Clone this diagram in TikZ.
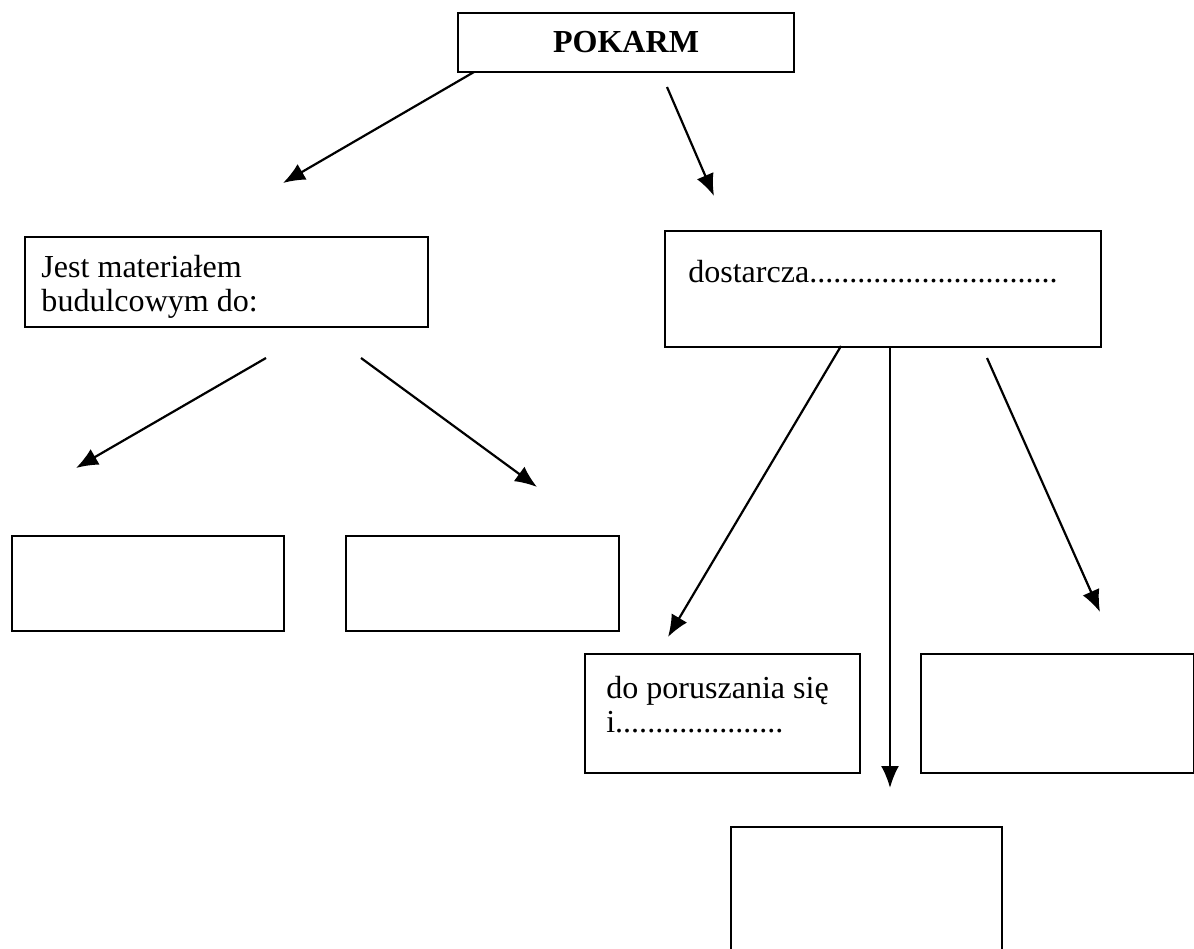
\documentclass[tikz,border=0pt]{standalone}
\usepackage{fontspec}
\setmainfont{Liberation Serif}
\usetikzlibrary{arrows.meta}

\begin{document}
\begin{tikzpicture}[
    box/.style={draw, line width=0.05cm, inner sep=0pt, anchor=north west},
    txt/.style={inner sep=0pt, anchor=north west, align=left, font=\fontsize{22.8}{24.2}\selectfont},
    arr/.style={line width=0.055cm, -{Latex[length=0.55cm,width=0.45cm]}}
  ]
        \useasboundingbox (0,0) rectangle (29.85,-23.7);

        % Draw boxes
        \node[box, minimum width=8.4cm, minimum height=1.475cm,
              font=\fontsize{22.8}{24.2}\selectfont\bfseries] (pokarm) at (11.425,-0.3) {POKARM};
        \node[box, minimum width=10.075cm, minimum height=2.25cm] (budulec) at (0.6,-5.9) {};
        \node[box, minimum width=10.9cm, minimum height=2.9cm] (energia) at (16.6,-5.75) {};
        \node[box, minimum width=6.8cm, minimum height=2.375cm] (bud1) at (0.275,-13.375) {};
        \node[box, minimum width=6.825cm, minimum height=2.375cm] (bud2) at (8.625,-13.375) {};
        \node[box, minimum width=6.875cm, minimum height=2.975cm] (ruch) at (14.6,-16.325) {};
        \node[box, minimum width=6.825cm, minimum height=2.975cm] (en2) at (23,-16.325) {};
        \node[box, minimum width=6.775cm, minimum height=3.6cm] (en3) at (18.25,-20.65) {};

        % Texts in boxes
        \node[txt] (budulectxt) at ([shift={(0.43,-0.48)}]budulec.north west)
              {Jest materiałem\\budulcowym do:};
        \node[txt] (energiatxt) at ([shift={(0.6,-0.76)}]energia.north west)
              {dostarcza...............................};
        \node[txt] (ruchtxt) at ([shift={(0.55,-0.57)}]ruch.north west)
              {do poruszania się\\i.....................};

        % Arrow ends
        \coordinate (a1s) at (11.85,-1.8);   \coordinate (a1e) at (7.075,-4.575);
        \coordinate (a2s) at (16.675,-2.175); \coordinate (a2e) at (17.85,-4.9);
        \coordinate (a3s) at (6.65,-8.95);   \coordinate (a3e) at (1.9,-11.7);
        \coordinate (a4s) at (9.025,-8.95);  \coordinate (a4e) at (13.425,-12.175);
        \coordinate (a5s) at (21.025,-8.65); \coordinate (a5e) at (16.7,-15.925);
        \coordinate (a6s) at (22.25,-8.65);  \coordinate (a6e) at (22.25,-19.7);
        \coordinate (a7s) at (24.675,-8.95); \coordinate (a7e) at (27.5,-15.3);

        % Draw arrows
        \draw[arr] (a1s) -- (a1e);
        \draw[arr] (a2s) -- (a2e);
        \draw[arr] (a3s) -- (a3e);
        \draw[arr] (a4s) -- (a4e);
        \draw[arr] (a5s) -- (a5e);
        \draw[arr] (a6s) -- (a6e);
        \draw[arr] (a7s) -- (a7e);
\end{tikzpicture}
\end{document}
